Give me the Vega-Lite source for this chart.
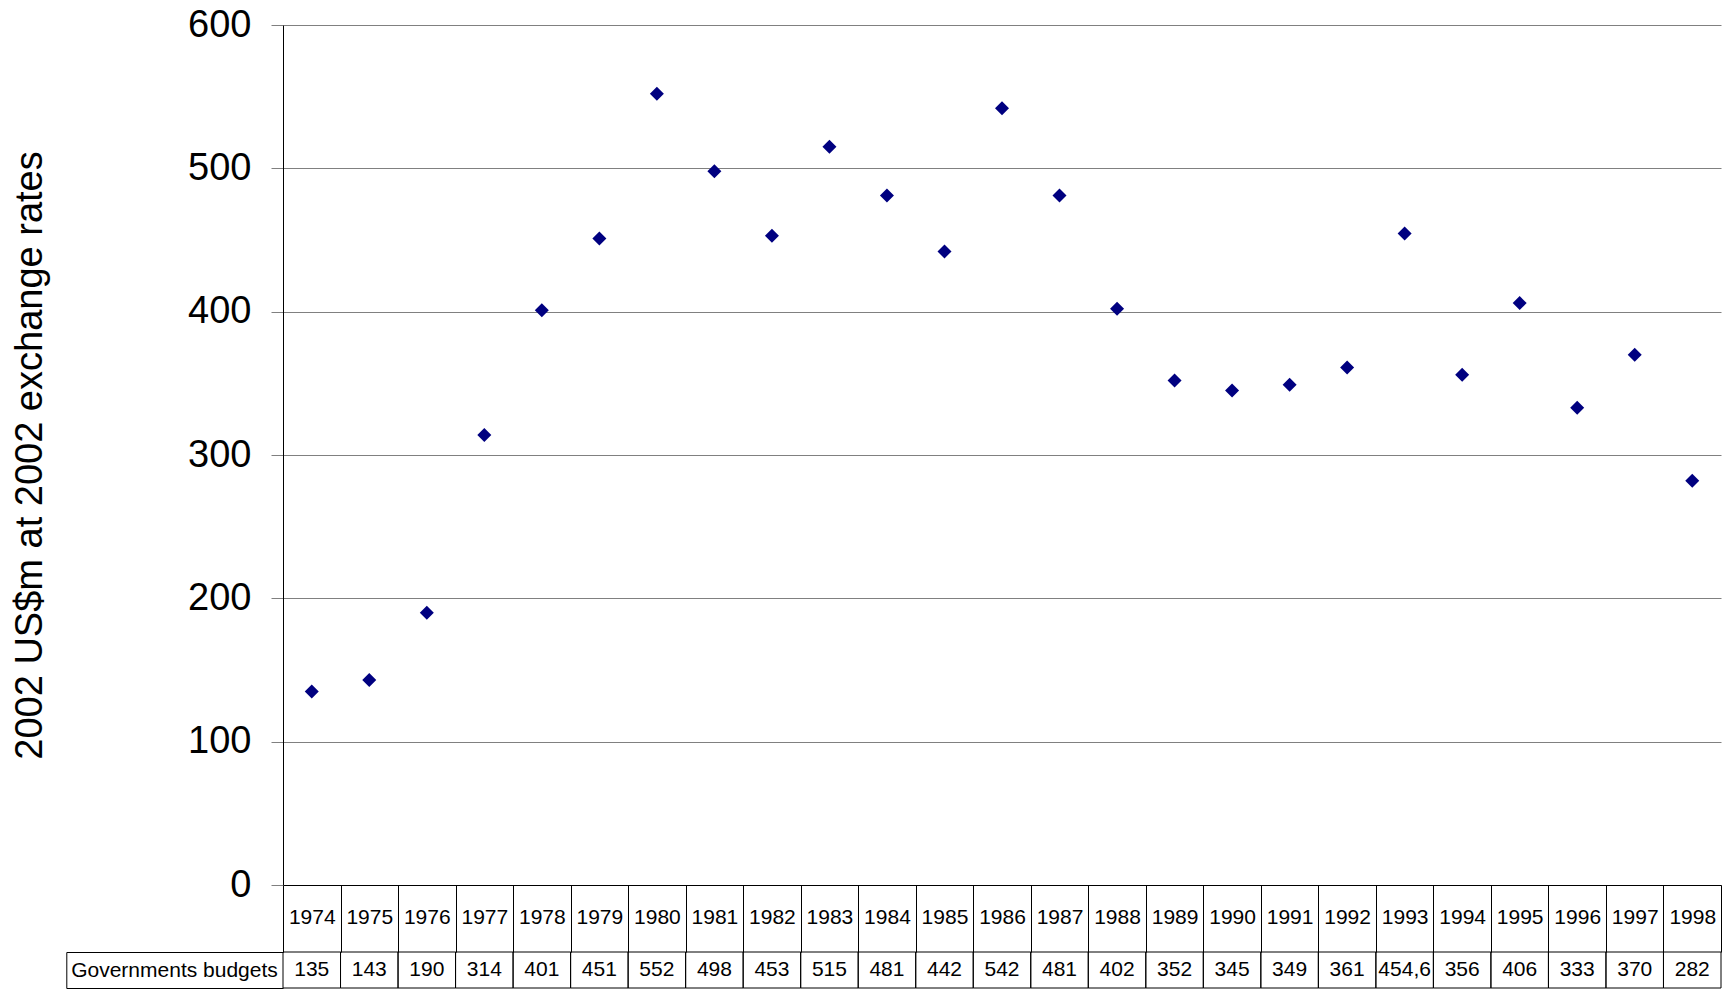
{
  "$schema": "https://vega.github.io/schema/vega-lite/v6.json",
  "padding": {"left": 11, "top": 6, "right": 0, "bottom": 0},
  "spacing": 67,
  "bounds": "flush",
  "config": {"font": "Liberation Sans", "view": {"stroke": null}},
  "datasets": {
    "budgets": [
      {"year": "1974", "value": 135, "label": "135"},
      {"year": "1975", "value": 143, "label": "143"},
      {"year": "1976", "value": 190, "label": "190"},
      {"year": "1977", "value": 314, "label": "314"},
      {"year": "1978", "value": 401, "label": "401"},
      {"year": "1979", "value": 451, "label": "451"},
      {"year": "1980", "value": 552, "label": "552"},
      {"year": "1981", "value": 498, "label": "498"},
      {"year": "1982", "value": 453, "label": "453"},
      {"year": "1983", "value": 515, "label": "515"},
      {"year": "1984", "value": 481, "label": "481"},
      {"year": "1985", "value": 442, "label": "442"},
      {"year": "1986", "value": 542, "label": "542"},
      {"year": "1987", "value": 481, "label": "481"},
      {"year": "1988", "value": 402, "label": "402"},
      {"year": "1989", "value": 352, "label": "352"},
      {"year": "1990", "value": 345, "label": "345"},
      {"year": "1991", "value": 349, "label": "349"},
      {"year": "1992", "value": 361, "label": "361"},
      {"year": "1993", "value": 454.6, "label": "454,6"},
      {"year": "1994", "value": 356, "label": "356"},
      {"year": "1995", "value": 406, "label": "406"},
      {"year": "1996", "value": 333, "label": "333"},
      {"year": "1997", "value": 370, "label": "370"},
      {"year": "1998", "value": 282, "label": "282"}
    ]
  },
  "vconcat": [
    {
      "width": 1438,
      "height": 860,
      "data": {"name": "budgets"},
      "mark": {"type": "point", "shape": "diamond", "filled": true, "color": "#000080", "size": 196, "opacity": 1},
      "encoding": {
        "x": {
          "field": "year", "type": "ordinal",
          "scale": {"paddingInner": 0, "paddingOuter": 0},
          "axis": {
            "title": null, "tickBand": "extent", "tickSize": 67, "tickColor": "black",
            "domainColor": "black", "labelAngle": 0, "labelFontSize": 21, "labelColor": "black",
            "labelBaseline": "middle", "labelPadding": -35, "grid": false
          }
        },
        "y": {
          "field": "value", "type": "quantitative",
          "scale": {"domain": [0, 600]},
          "axis": {
            "values": [0, 100, 200, 300, 400, 500, 600],
            "title": "2002 US$m at 2002 exchange rates",
            "titleFontSize": 38, "titleFontWeight": "normal", "titleColor": "black", "titlePadding": 138,
            "labelFontSize": 38, "labelColor": "black", "labelPadding": 20,
            "tickSize": 12, "tickColor": "#808080", "gridColor": "#808080", "gridOpacity": 1,
            "domainColor": "black"
          }
        }
      }
    },
    {
      "width": 1438,
      "height": 36,
      "data": {"name": "budgets"},
      "layer": [
        {
          "mark": {"type": "rect", "fillOpacity": 0, "fill": "white", "stroke": "black", "strokeWidth": 1},
          "encoding": {
            "x": {"field": "year", "type": "ordinal", "scale": {"paddingInner": 0, "paddingOuter": 0}, "axis": null},
            "y": {
              "datum": "Governments budgets", "type": "nominal",
              "scale": {"paddingInner": 0, "paddingOuter": 0},
              "axis": {
                "title": null, "offset": 216.7, "domain": true, "domainColor": "black",
                "ticks": true, "tickBand": "extent", "tickSize": -216.7, "tickColor": "black",
                "labelFontSize": 21, "labelColor": "black", "labelPadding": 5.7, "labelLimit": 0, "grid": false
              }
            }
          }
        },
        {
          "mark": {"type": "text", "fontSize": 21, "color": "black"},
          "encoding": {
            "x": {"field": "year", "type": "ordinal", "scale": {"paddingInner": 0, "paddingOuter": 0}, "axis": null},
            "y": {
              "datum": "Governments budgets", "type": "nominal",
              "scale": {"paddingInner": 0, "paddingOuter": 0}
            },
            "text": {"field": "label"}
          }
        }
      ]
    }
  ]
}
